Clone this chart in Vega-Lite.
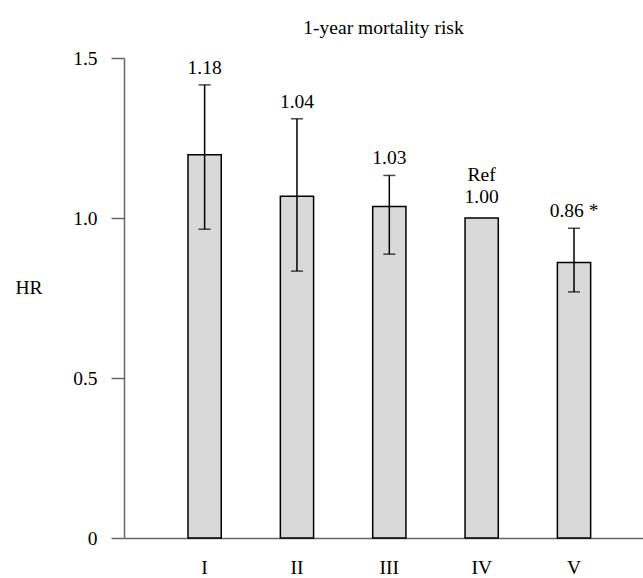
{
  "$schema": "https://vega.github.io/schema/vega-lite/v6.json",
  "autosize": {"type": "none"},
  "padding": {"left": 124, "top": 58, "right": 0, "bottom": 40},
  "width": 519,
  "height": 480,
  "background": "white",
  "config": {
    "view": {"stroke": null},
    "font": "'Liberation Serif', 'Times New Roman', Times, 'DejaVu Serif', serif",
    "axis": {"labelFont": "'Liberation Serif', 'Times New Roman', Times, 'DejaVu Serif', serif", "titleFont": "'Liberation Serif', 'Times New Roman', Times, 'DejaVu Serif', serif", "labelColor": "#000000", "titleColor": "#000000", "grid": false}
  },
  "title": {
    "text": "1-year mortality risk",
    "font": "'Liberation Serif', 'Times New Roman', Times, 'DejaVu Serif', serif",
    "fontSize": 19.5,
    "fontWeight": "normal",
    "color": "#000000",
    "anchor": "middle",
    "offset": 10
  },
  "data": {
    "values": [
      {"group": "I", "hr": 1.198, "lower": 0.965, "upper": 1.416, "label": "1.18", "note": null},
      {"group": "II", "hr": 1.068, "lower": 0.834, "upper": 1.31, "label": "1.04", "note": null},
      {"group": "III", "hr": 1.036, "lower": 0.887, "upper": 1.133, "label": "1.03", "note": null},
      {"group": "IV", "hr": 1.0, "lower": null, "upper": null, "label": "1.00", "note": "Ref"},
      {"group": "V", "hr": 0.861, "lower": 0.769, "upper": 0.968, "label": "0.86 *", "note": null}
    ]
  },
  "encoding": {
    "x": {
      "field": "group",
      "type": "nominal",
      "sort": null,
      "scale": {"paddingInner": 0.64, "paddingOuter": 0.63, "align": 0.55},
      "axis": {
        "title": null,
        "labelAngle": 0,
        "labelFontSize": 19.5,
        "labelPadding": 20,
        "ticks": false,
        "domainColor": "#666666",
        "domainWidth": 1.5
      }
    }
  },
  "layer": [
    {
      "mark": {"type": "bar", "fill": "#d9d9d9", "stroke": "#000000", "strokeWidth": 1.5},
      "encoding": {
        "y": {
          "field": "hr",
          "type": "quantitative",
          "scale": {"domain": [0, 1.5], "nice": false},
          "axis": {
            "title": "HR",
            "titleAngle": 0,
            "titleFontSize": 19.5,
            "titleFontWeight": "normal",
            "titleAlign": "left",
            "titleBaseline": "middle",
            "titleX": -109,
            "titleY": 229,
            "values": [0, 0.5, 1, 1.5],
            "labelExpr": "datum.value == 0 ? '0' : format(datum.value, '.1f')",
            "labelFontSize": 19.5,
            "labelPadding": 14,
            "tickSize": 13,
            "tickColor": "#666666",
            "tickWidth": 1.5,
            "domainColor": "#666666",
            "domainWidth": 1.5
          }
        }
      }
    },
    {
      "transform": [{"filter": "datum.upper != null"}],
      "mark": {"type": "rule", "color": "#000000", "strokeWidth": 1.5},
      "encoding": {
        "y": {"field": "lower", "type": "quantitative"},
        "y2": {"field": "upper"}
      }
    },
    {
      "transform": [{"filter": "datum.upper != null"}],
      "mark": {"type": "tick", "color": "#000000", "thickness": 1.5, "size": 12},
      "encoding": {"y": {"field": "lower", "type": "quantitative"}}
    },
    {
      "transform": [{"filter": "datum.upper != null"}],
      "mark": {"type": "tick", "color": "#000000", "thickness": 1.5, "size": 12},
      "encoding": {"y": {"field": "upper", "type": "quantitative"}}
    },
    {
      "transform": [{"filter": "datum.upper != null"}],
      "mark": {"type": "text", "fontSize": 19.5, "color": "#000000", "baseline": "alphabetic", "dy": -11},
      "encoding": {
        "y": {"field": "upper", "type": "quantitative"},
        "text": {"field": "label", "type": "nominal"}
      }
    },
    {
      "transform": [{"filter": "datum.upper == null"}],
      "mark": {"type": "text", "fontSize": 19.5, "color": "#000000", "baseline": "alphabetic", "dy": -15},
      "encoding": {
        "y": {"field": "hr", "type": "quantitative"},
        "text": {"field": "label", "type": "nominal"}
      }
    },
    {
      "transform": [{"filter": "datum.note != null"}],
      "mark": {"type": "text", "fontSize": 19.5, "color": "#000000", "baseline": "alphabetic", "dy": -37},
      "encoding": {
        "y": {"field": "hr", "type": "quantitative"},
        "text": {"field": "note", "type": "nominal"}
      }
    }
  ]
}
